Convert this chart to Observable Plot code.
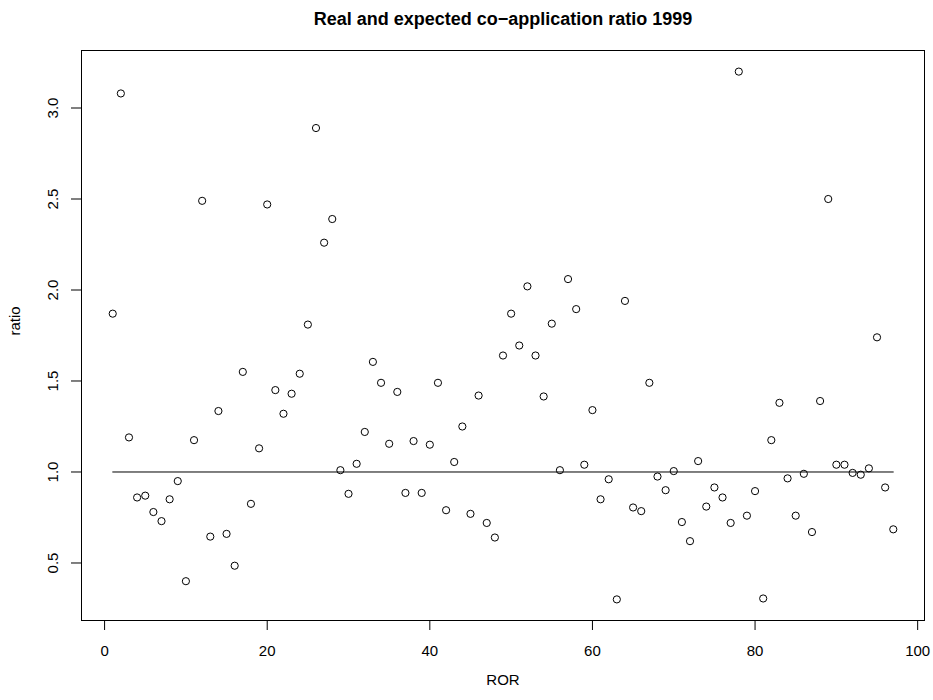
<!DOCTYPE html>
<html>
<head>
<meta charset="utf-8">
<script src="https://cdn.jsdelivr.net/npm/d3@7"></script>
<script src="https://cdn.jsdelivr.net/npm/@observablehq/plot@0.6"></script>
<style>
  html, body { margin: 0; padding: 0; background: #fff; }
  #chart svg { display: block; }
</style>
</head>
<body>
<div id="chart"></div>
<script>
const titleText = "Real and expected co\u2212application ratio 1999";
const xLabel = "ROR";
const yLabel = "ratio";

const ratio = [
  1.87, 3.08, 1.19, 0.86, 0.87, 0.78, 0.73, 0.85, 0.95, 0.40,
  1.175, 2.49, 0.645, 1.335, 0.66, 0.485, 1.55, 0.825, 1.13, 2.47,
  1.45, 1.32, 1.43, 1.54, 1.81, 2.89, 2.26, 2.39, 1.01, 0.88,
  1.045, 1.22, 1.605, 1.49, 1.155, 1.44, 0.885, 1.17, 0.885, 1.15,
  1.49, 0.79, 1.055, 1.25, 0.77, 1.42, 0.72, 0.64, 1.64, 1.87,
  1.695, 2.02, 1.64, 1.415, 1.815, 1.01, 2.06, 1.895, 1.04, 1.34,
  0.85, 0.96, 0.30, 1.94, 0.805, 0.785, 1.49, 0.975, 0.90, 1.005,
  0.725, 0.62, 1.06, 0.81, 0.915, 0.86, 0.72, 3.20, 0.76, 0.895,
  0.305, 1.175, 1.38, 0.965, 0.76, 0.99, 0.67, 1.39, 2.50, 1.04,
  1.04, 0.995, 0.985, 1.02, 1.74, 0.915, 0.685
];
const ROR = ratio.map((_, i) => i + 1);

const xTicks = [0, 20, 40, 60, 80, 100];
const yTicks = [0.5, 1.0, 1.5, 2.0, 2.5, 3.0];
const refValue = 1;

// Built from the arrays above
const points = ROR.map((r, i) => ({ROR: r, ratio: ratio[i]}));
const refLine = [
  {ROR: d3.min(ROR), ratio: refValue},
  {ROR: d3.max(ROR), ratio: refValue}
];

// R-style 4% range extension
function pad(ext) { const d = (ext[1] - ext[0]) * 0.04; return [ext[0] - d, ext[1] + d]; }

const font = "'Liberation Sans', Arial, Helvetica, sans-serif";

const chart = Plot.plot({
  width: 933,
  height: 700,
  marginLeft: 81,
  marginRight: 9,
  marginTop: 50,
  marginBottom: 80,
  style: {fontFamily: font, color: "black", background: "white", fontSize: "15px"},
  x: {domain: pad(d3.extent(ROR)), axis: null},
  y: {domain: pad(d3.extent(ratio)), axis: null},
  marks: [
    Plot.frame({stroke: "black", strokeWidth: 1}),
    Plot.axisX({ticks: xTicks, tickSize: 10, tickPadding: 15, fontSize: 15, label: null, tickFormat: d3.format("d")}),
    Plot.axisY({ticks: yTicks, tickSize: 10, tickFormat: () => "", label: null}),
    Plot.text(yTicks, {y: d => d, text: d3.format(".1f"), frameAnchor: "left", dx: -28, rotate: -90, fontSize: 15, textAnchor: "middle"}),
    Plot.line(refLine, {x: "ROR", y: "ratio", stroke: "black", strokeWidth: 1}),
    Plot.dot(points, {x: "ROR", y: "ratio", r: 3.6, stroke: "black", fill: "none", strokeWidth: 1}),
    Plot.text([titleText], {frameAnchor: "top", dy: -38, fontSize: 18, fontWeight: "bold"}),
    Plot.text([xLabel], {frameAnchor: "bottom", dy: 64, fontSize: 15}),
    Plot.text([yLabel], {frameAnchor: "left", dx: -66, rotate: -90, fontSize: 15})
  ]
});
document.getElementById("chart").appendChild(chart);
</script>
</body>
</html>
